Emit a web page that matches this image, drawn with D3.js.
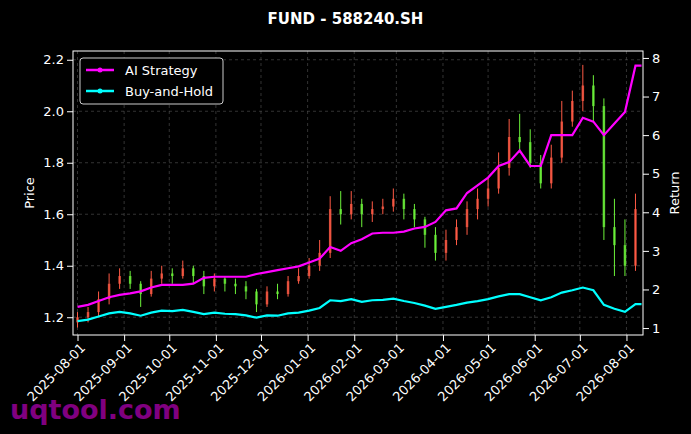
<!DOCTYPE html>
<html><head><meta charset="utf-8">
<script src="https://cdn.jsdelivr.net/npm/d3@7"></script>
<style>body{margin:0;background:#000}text{font-family:"DejaVu Sans",sans-serif}</style>
</head><body><svg id="chart" width="691" height="434"></svg>
<script>
// weekly bars starting 2025-08-01
var closes = [1.20,1.22,1.27,1.33,1.36,1.33,1.29,1.35,1.37,1.36,1.39,1.36,1.32,1.35,1.33,1.32,1.30,1.25,1.30,1.29,1.34,1.36,1.40,1.45,1.62,1.60,1.64,1.60,1.62,1.63,1.66,1.62,1.58,1.52,1.45,1.50,1.55,1.62,1.66,1.70,1.78,1.90,1.88,1.80,1.72,1.82,1.96,2.04,2.10,2.02,1.55,1.48,1.40,1.62];
var opens  = [1.18,1.20,1.22,1.27,1.33,1.36,1.33,1.29,1.35,1.37,1.36,1.39,1.36,1.32,1.35,1.33,1.32,1.30,1.25,1.30,1.29,1.34,1.36,1.40,1.45,1.62,1.60,1.64,1.60,1.62,1.63,1.66,1.62,1.58,1.52,1.45,1.50,1.55,1.62,1.66,1.70,1.78,1.90,1.88,1.80,1.72,1.82,1.96,2.04,2.10,2.02,1.55,1.48,1.40];
var highs  = [1.22,1.24,1.30,1.37,1.39,1.38,1.34,1.38,1.40,1.39,1.42,1.40,1.38,1.37,1.36,1.35,1.34,1.31,1.32,1.33,1.36,1.39,1.43,1.50,1.67,1.69,1.69,1.66,1.65,1.66,1.70,1.68,1.64,1.59,1.55,1.54,1.58,1.65,1.70,1.74,1.84,1.97,1.99,1.93,1.83,1.87,2.04,2.08,2.18,2.14,2.05,1.66,1.58,1.68];
var lows   = [1.16,1.18,1.20,1.25,1.31,1.31,1.24,1.28,1.33,1.33,1.35,1.33,1.29,1.30,1.30,1.29,1.27,1.22,1.24,1.27,1.28,1.33,1.35,1.38,1.43,1.56,1.58,1.55,1.57,1.60,1.61,1.58,1.55,1.47,1.42,1.42,1.48,1.52,1.58,1.63,1.68,1.75,1.84,1.78,1.70,1.70,1.80,1.94,2.00,1.96,1.50,1.36,1.36,1.38];
var aiReturn = [1.55,1.60,1.70,1.80,1.86,1.90,1.95,2.05,2.12,2.12,2.12,2.15,2.30,2.33,2.33,2.33,2.33,2.40,2.45,2.50,2.55,2.60,2.70,2.80,3.10,3.00,3.20,3.30,3.45,3.47,3.47,3.50,3.58,3.62,3.75,4.05,4.10,4.50,4.70,4.90,5.20,5.30,5.60,5.20,5.20,6.00,6.00,6.00,6.45,6.35,6.00,6.30,6.60,7.80];
var holdReturn = [1.18,1.22,1.30,1.38,1.42,1.38,1.32,1.40,1.45,1.44,1.47,1.42,1.36,1.40,1.37,1.36,1.33,1.27,1.33,1.32,1.38,1.40,1.45,1.52,1.72,1.70,1.75,1.68,1.72,1.73,1.76,1.70,1.65,1.58,1.50,1.55,1.60,1.66,1.70,1.75,1.82,1.88,1.88,1.80,1.72,1.80,1.92,1.98,2.05,1.98,1.60,1.50,1.42,1.62];
var startDate = new Date(2025, 7, 1);
var dates = closes.map(function(d, i) { return d3.timeDay.offset(startDate, i * 7); });
var tickDates = ["2025-08-01","2025-09-01","2025-10-01","2025-11-01","2025-12-01","2026-01-01","2026-02-01","2026-03-01","2026-04-01","2026-05-01","2026-06-01","2026-07-01","2026-08-01"];

var svg = d3.select("#chart");
var m = {l: 73, r: 48, t: 51, b: 99};
var W = 691, H = 434;
var parse = d3.timeParse("%Y-%m-%d");
var x = d3.scaleTime().domain([new Date(2025, 6, 29), new Date(2026, 7, 12)]).range([m.l, W - m.r]);
var yL = d3.scaleLinear().domain([1.131, 2.234]).range([H - m.b, m.t]);
var yR = d3.scaleLinear().domain([0.82, 8.18]).range([H - m.b, m.t]);

// grid
svg.append("g").selectAll("line").data(tickDates).enter().append("line")
    .attr("x1", function(d) { return x(parse(d)); }).attr("x2", function(d) { return x(parse(d)); })
    .attr("y1", m.t).attr("y2", H - m.b)
    .attr("stroke", "#555").attr("stroke-dasharray", "3,3").attr("stroke-width", 0.6);
svg.append("g").selectAll("line").data([1.2,1.4,1.6,1.8,2.0,2.2]).enter().append("line")
    .attr("x1", m.l).attr("x2", W - m.r)
    .attr("y1", function(d) { return yL(d); }).attr("y2", function(d) { return yL(d); })
    .attr("stroke", "#555").attr("stroke-dasharray", "3,3").attr("stroke-width", 0.6);

// candles
var idx = d3.range(closes.length);
var candles = svg.append("g");
candles.selectAll("line").data(idx).enter().append("line")
    .attr("x1", function(i) { return x(dates[i]); }).attr("x2", function(i) { return x(dates[i]); })
    .attr("y1", function(i) { return yL(highs[i]); }).attr("y2", function(i) { return yL(lows[i]); })
    .attr("stroke", function(i) { return closes[i] >= opens[i] ? "#ff5a45" : "#6cf23a"; })
    .attr("stroke-width", 1);
candles.selectAll("rect").data(idx).enter().append("rect")
    .attr("x", function(i) { return x(dates[i]) - 1.25; }).attr("width", 2.5)
    .attr("y", function(i) { return yL(Math.max(opens[i], closes[i])); })
    .attr("height", function(i) { return Math.max(1, Math.abs(yL(opens[i]) - yL(closes[i]))); })
    .attr("fill", function(i) { return closes[i] >= opens[i] ? "#ff5a45" : "#6cf23a"; })
    .attr("opacity", 0.8);

// returns
function drawLine(vals, color) {
    svg.append("path").datum(idx.concat([idx.length - 1]))
        .attr("fill", "none").attr("stroke", color).attr("stroke-width", 2.2)
        .attr("d", d3.line()
            .x(function(i, k) { return k === idx.length ? x(new Date(2026, 7, 11)) : x(dates[i]); })
            .y(function(i) { return yR(vals[i]); }));
}
drawLine(aiReturn, "#ff00ff");
drawLine(holdReturn, "#00ffff");

// frame
svg.append("rect").attr("x", m.l).attr("y", m.t).attr("width", W - m.l - m.r).attr("height", H - m.t - m.b)
    .attr("fill", "none").attr("stroke", "#fff").attr("stroke-width", 1);

// axes
var xAxis = svg.append("g").attr("transform", "translate(0," + (H - m.b) + ")")
    .call(d3.axisBottom(x).tickValues(tickDates.map(parse)).tickFormat(d3.timeFormat("%Y-%m-%d")).tickSizeOuter(0));
xAxis.selectAll("text").attr("transform", "rotate(-45)").style("text-anchor", "end")
    .attr("dx", "-0.3em").attr("dy", "0.5em");
var lAxis = svg.append("g").attr("transform", "translate(" + m.l + ",0)")
    .call(d3.axisLeft(yL).tickValues([1.2,1.4,1.6,1.8,2.0,2.2]).tickFormat(d3.format(".1f")).tickSizeOuter(0));
var rAxis = svg.append("g").attr("transform", "translate(" + (W - m.r) + ",0)")
    .call(d3.axisRight(yR).tickValues([1,2,3,4,5,6,7,8]).tickSizeOuter(0));
[xAxis, lAxis, rAxis].forEach(function(a) {
    a.select(".domain").remove();
    a.selectAll("line").attr("stroke", "#fff");
    a.selectAll("text").attr("fill", "#fff").style("font-size", "13px");
});

// labels
svg.append("text").attr("x", W / 2).attr("y", 24).attr("text-anchor", "middle")
    .attr("fill", "#fff").style("font-size", "15px").style("font-weight", "bold").text("FUND - 588240.SH");
svg.append("text").attr("transform", "translate(34," + ((m.t + H - m.b) / 2) + ") rotate(-90)")
    .attr("text-anchor", "middle").attr("fill", "#fff").style("font-size", "13px").text("Price");
svg.append("text").attr("transform", "translate(679," + ((m.t + H - m.b) / 2) + ") rotate(-90)")
    .attr("text-anchor", "middle").attr("fill", "#fff").style("font-size", "13px").text("Return");

// legend
var lg = svg.append("g").attr("transform", "translate(80,58)");
lg.append("rect").attr("width", 143).attr("height", 46).attr("rx", 3)
    .attr("fill", "#000").attr("stroke", "#ccc").attr("stroke-width", 1);
[["AI Strategy", "#ff00ff"], ["Buy-and-Hold", "#00ffff"]].forEach(function(d, k) {
    var yy = 12 + k * 21;
    lg.append("line").attr("x1", 6).attr("x2", 34).attr("y1", yy).attr("y2", yy)
        .attr("stroke", d[1]).attr("stroke-width", 2.5);
    lg.append("circle").attr("cx", 20).attr("cy", yy).attr("r", 2.5).attr("fill", d[1]);
    lg.append("text").attr("x", 45).attr("y", yy + 5).attr("fill", "#fff").style("font-size", "13px").text(d[0]);
});

// watermark
svg.append("text").attr("x", 10).attr("y", 419).attr("fill", "#800080")
    .style("font-size", "27px").style("font-weight", "bold").text("uqtool.com");
</script></body></html>
